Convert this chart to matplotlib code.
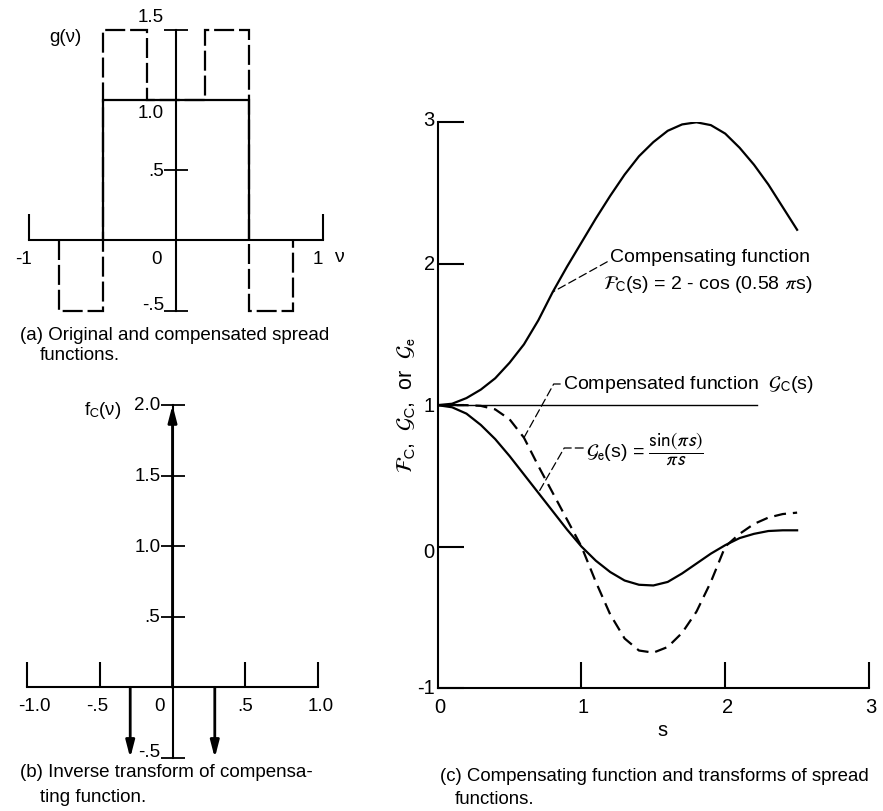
import matplotlib
matplotlib.use("Agg")
import matplotlib.pyplot as plt
from matplotlib import transforms

plt.rcParams['font.family'] = ['Liberation Sans', 'DejaVu Sans']
plt.rcParams['mathtext.fontset'] = 'stixsans'

# (a) spread functions: original (solid) and compensated (dashed), as steps
orig_edges = [-0.5, 0.5]
orig_vals = [1.0]
comp_edges = [-0.8, -0.5, -0.2, 0.2, 0.5, 0.8]
comp_vals = [-0.5, 1.5, 1.0, 1.5, -0.5]
a_yticks = [1.5, 1.0, 0.5, -0.5]
a_ylabels = ['1.5', '1.0', '.5', '-.5']
a_xticks = [-1, 0, 1]
a_xlabels = ['-1', '0', '1']

# (b) inverse transform: impulses
imp_nu = [-0.29, 0.0, 0.29]
imp_amp = [-0.5, 2.0, -0.5]
b_yticks = [2.0, 1.5, 1.0, 0.5, -0.5]
b_ylabels = ['2.0', '1.5', '1.0', '.5', '-.5']
b_xticks = [-1.0, -0.5, 0.0, 0.5, 1.0]
b_xlabels = ['-1.0', '-.5', '0', '.5', '1.0']

# (c) curves
s = [0.0, 0.1, 0.2, 0.3, 0.4, 0.5, 0.6, 0.7, 0.8, 0.9, 1.0, 1.1, 1.2,
     1.3, 1.4, 1.5, 1.6, 1.7, 1.8, 1.9, 2.0, 2.1, 2.2, 2.3, 2.4, 2.5]
fc = [1.00, 1.01, 1.05, 1.11, 1.19, 1.30, 1.43, 1.60, 1.80, 1.98, 2.15, 2.32, 2.48,
      2.63, 2.76, 2.86, 2.94, 2.985, 3.00, 2.98, 2.92, 2.82, 2.70, 2.56, 2.40, 2.24]
ge = [1.00, 0.985, 0.94, 0.86, 0.76, 0.64, 0.51, 0.38, 0.25, 0.12, 0.00, -0.10, -0.18,
      -0.24, -0.27, -0.275, -0.25, -0.19, -0.12, -0.05, 0.01, 0.06, 0.09, 0.11, 0.115, 0.115]
gc = [1.00, 1.00, 1.00, 0.995, 0.97, 0.90, 0.77, 0.57, 0.38, 0.19, 0.00, -0.25, -0.48,
      -0.65, -0.735, -0.75, -0.71, -0.61, -0.46, -0.25, 0.00, 0.09, 0.16, 0.205, 0.23, 0.24]
ideal_s = [0.0, 2.22]
ideal_v = [1.0, 1.0]
c_yticks = [3, 2, 1, 0, -1]
c_xticks = [0, 1, 2, 3]

W, H = 883, 812
fig = plt.figure(figsize=(W / 100, H / 100), dpi=100)

AB = 13.5   # text size for panels (a) and (b)
CS = 14     # text size for panel (c)


def px_axes(left, right, top, bottom, xlim, ylim):
    ax = fig.add_axes([left / W, 1 - bottom / H, (right - left) / W, (bottom - top) / H])
    ax.set_xlim(*xlim)
    ax.set_ylim(*ylim)
    ax.patch.set_visible(False)
    for sp in ('top', 'right'):
        ax.spines[sp].set_visible(False)
    for sp in ('left', 'bottom'):
        ax.spines[sp].set_linewidth(1.5)
    return ax


def fig_text(x, y, txt, **kw):
    fig.text(x / W, 1 - y / H, txt, **kw)


def off(ax, dx, dy):
    return transforms.offset_copy(ax.transData, fig=fig, x=dx, y=-dy, units='dots')


# ---------------- (a) ----------------
ax_a = px_axes(29.3, 322.7, 30.7, 311.7, (-1, 1), (-0.5, 1.5))
ax_a.spines['left'].set_position(('data', 0))
ax_a.spines['bottom'].set_position(('data', 0))
ax_a.spines['left'].set_bounds(-0.5, 1.5)
ax_a.spines['bottom'].set_bounds(-1, 1)
ax_a.set_yticks(a_yticks)
ax_a.set_xticks([-1, 1])
ax_a.tick_params(axis='y', direction='inout', length=17, width=1.3, labelleft=False)
ax_a.tick_params(axis='x', direction='in', length=19, width=1.5, labelbottom=False)
ax_a.stairs(orig_vals, orig_edges, baseline=0, color='black', lw=1.6, clip_on=False)
ax_a.stairs(comp_vals, comp_edges, baseline=0, color='black', lw=1.6,
            linestyle=(0, (9, 2.2)), clip_on=False)
a_dy = [-13, 13, 0, -6]
for v, lab, dy in zip(a_yticks, a_ylabels, a_dy):
    ax_a.text(0, v, lab, transform=off(ax_a, -12, dy), ha='right', va='center', fontsize=AB)
for v, lab, dx in zip(a_xticks, a_xlabels, [-6, -20, -5]):
    ax_a.text(v, 0, lab, transform=off(ax_a, dx, 18), ha='center', va='center', fontsize=AB)
fig_text(339, 258, 'ν', ha='center', va='center', fontsize=AB + 0.5)
fig_text(65, 38, 'g(ν)', ha='center', va='center', fontsize=AB)
fig_text(20, 336, '(a) Original and compensated spread', ha='left', va='center', fontsize=AB)
fig_text(40, 356, 'functions.', ha='left', va='center', fontsize=AB)

# ---------------- (b) ----------------
ax_b = px_axes(26.7, 318.3, 406, 758.9, (-1, 1), (-0.5, 2.0))
ax_b.spines['left'].set_position(('data', 0))
ax_b.spines['bottom'].set_position(('data', 0))
ax_b.spines['left'].set_bounds(-0.5, 2.0)
ax_b.spines['bottom'].set_bounds(-1, 1)
ax_b.set_yticks(b_yticks)
ax_b.set_xticks([-1.0, -0.5, 0.5, 1.0])
ax_b.tick_params(axis='y', direction='inout', length=17, width=1.3, labelleft=False)
ax_b.tick_params(axis='x', direction='in', length=18, width=1.5, labelbottom=False)
for nu, amp in zip(imp_nu, imp_amp):
    ax_b.annotate('', xy=(nu, amp), xytext=(nu, 0),
                  arrowprops=dict(arrowstyle='-|>,head_length=0.5,head_width=0.13',
                                  lw=2, color='black', shrinkA=0, shrinkB=0,
                                  mutation_scale=20))
for v, lab, dy in zip(b_yticks, b_ylabels, [0, 0, 0, 0, -6]):
    ax_b.text(0, v, lab, transform=off(ax_b, -12, dy), ha='right', va='center', fontsize=AB)
for v, lab, dx in zip(b_xticks, b_xlabels, [8, -2, -13, 0, 2]):
    ax_b.text(v, 0, lab, transform=off(ax_b, dx, 18), ha='center', va='center', fontsize=AB)
fig_text(103, 411, r'f$_{\mathrm{C}}$(ν)', ha='center', va='center', fontsize=AB)
fig_text(20, 773, '(b) Inverse transform of compensa-', ha='left', va='center', fontsize=AB)
fig_text(40, 798, 'ting function.', ha='left', va='center', fontsize=AB)

# ---------------- (c) ----------------
ax_c = px_axes(437.7, 869, 123.3, 689, (0, 3), (-1, 3))
ax_c.set_yticks(c_yticks)
ax_c.set_xticks(c_xticks[1:])
ax_c.tick_params(axis='both', direction='in', length=19, width=1.5,
                 labelleft=False, labelbottom=False)
ax_c.plot(s, fc, color='black', lw=1.6)
ax_c.plot(s, ge, color='black', lw=1.6)
ax_c.plot(s, gc, color='black', lw=1.6, linestyle=(0, (5.4, 3.1)))
ax_c.plot(ideal_s, ideal_v, color='black', lw=1.0)
for v, dy in zip(c_yticks, [-3, 0, 0, 5, 0]):
    ax_c.text(0, v, str(v), transform=off(ax_c, -3, dy), ha='right', va='center', fontsize=CS + 0.5)
for v in c_xticks:
    ax_c.text(v, -1, str(v), transform=off(ax_c, 2, 19), ha='center', va='center', fontsize=CS + 0.5)
fig_text(662, 731, 's', ha='center', va='center', fontsize=CS + 0.5)
fig_text(406, 405, r'$\mathcal{F}_{\mathrm{C}}$,  $\mathcal{G}_{\mathrm{C}}$,  or  $\mathcal{G}_{\mathrm{e}}$',
         rotation=90, ha='center', va='center', fontsize=15.5)

leader = dict(arrowstyle='-', lw=0.9, color='black', linestyle=(0, (6.4, 3.2)),
              shrinkA=0, shrinkB=0)
ax_c.annotate('Compensating function', xy=(s[8], fc[8]),
              xytext=(610 / W, 1 - 258 / H), textcoords='figure fraction',
              ha='left', va='center', fontsize=CS,
              arrowprops=dict(leader, connectionstyle='angle,angleA=0,angleB=29,rad=0'))
fig_text(603, 285, r'$\mathcal{F}_{\mathrm{C}}$(s) = 2 - cos (0.58 $\pi$s)',
         ha='left', va='center', fontsize=CS)
ax_c.annotate(r'Compensated function  $\mathcal{G}_{\mathrm{C}}$(s)', xy=(s[6], gc[6]),
              xytext=(563 / W, 1 - 385 / H), textcoords='figure fraction',
              ha='left', va='center', fontsize=CS,
              arrowprops=dict(leader, connectionstyle='angle,angleA=0,angleB=61,rad=0'))
ax_c.annotate(r'$\mathcal{G}_{\mathrm{e}}$(s) = $\dfrac{\mathrm{sin}(\pi s)}{\pi s}$',
              xy=(s[7], ge[7]),
              xytext=(586 / W, 1 - 449 / H), textcoords='figure fraction',
              ha='left', va='center', fontsize=CS,
              arrowprops=dict(leader, connectionstyle='angle,angleA=0,angleB=60,rad=0'))
fig_text(440, 777, '(c) Compensating function and transforms of spread',
         ha='left', va='center', fontsize=13.4)
fig_text(455, 800, 'functions.', ha='left', va='center', fontsize=13.4)

fig.savefig('out.png', dpi=100)
